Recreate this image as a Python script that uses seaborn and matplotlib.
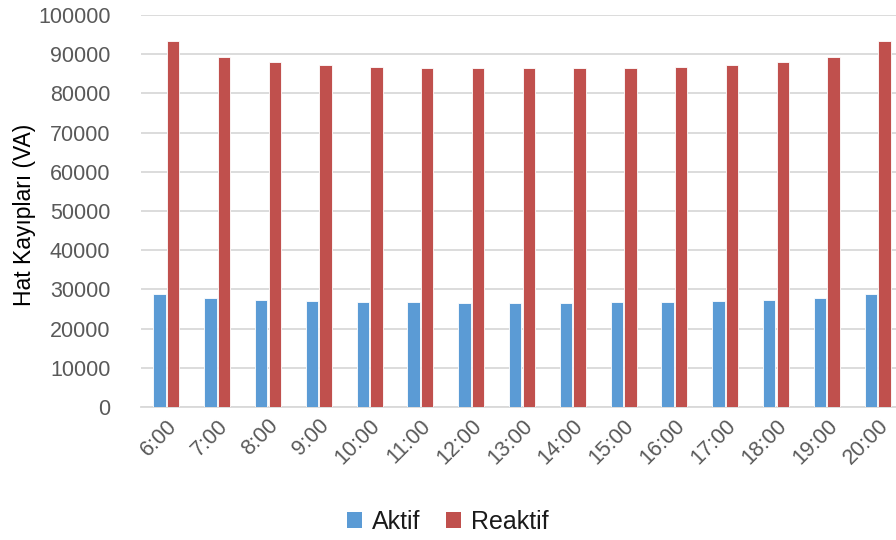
import matplotlib
matplotlib.use("Agg")
import matplotlib.pyplot as plt
import seaborn as sns
import pandas as pd
from matplotlib.patches import Patch

hours = ["6:00", "7:00", "8:00", "9:00", "10:00", "11:00", "12:00", "13:00",
         "14:00", "15:00", "16:00", "17:00", "18:00", "19:00", "20:00"]
aktif = [28900, 27700, 27200, 27000, 26900, 26800, 26650, 26600,
         26650, 26800, 26900, 27000, 27200, 27700, 28900]
reaktif = [93400, 89400, 88000, 87200, 86800, 86600, 86400, 86400,
           86400, 86600, 86800, 87200, 88000, 89300, 93300]
series = ["Aktif", "Reaktif"]
colors = ["#5B9BD5", "#C0504D"]

df = pd.DataFrame({
    "hour": hours * 2,
    "value": aktif + reaktif,
    "series": [series[0]] * len(hours) + [series[1]] * len(hours),
})

sns.set_theme(style="white")
plt.rcParams["font.family"] = ["Liberation Sans", "DejaVu Sans"]

fig = plt.figure(figsize=(8.96, 5.4), dpi=100)
ax = fig.add_axes([141 / 896, (540 - 407) / 540, (903 - 141) / 896, (407 - 15) / 540])

sns.barplot(data=df, x="hour", y="value", hue="series", order=hours,
            hue_order=series, palette=colors, saturation=1, width=0.54, gap=0.1,
            edgecolor="white", linewidth=0.6, legend=False, ax=ax, zorder=3)

ax.set_ylim(0, 100000)
ax.set_yticks(range(0, 100001, 10000))
ax.set_xlim(-0.5, len(hours) - 0.5)
ax.grid(axis="y", color="#D9D9D9", linewidth=1.3, zorder=0)
ax.set_axisbelow(True)
for s in ["left", "right", "top"]:
    ax.spines[s].set_visible(False)
ax.spines["bottom"].set_color("#D9D9D9")
ax.spines["bottom"].set_linewidth(1.3)
ax.tick_params(axis="both", length=0, labelsize=15.5, colors="#595959")
ax.tick_params(axis="y", pad=22)
ax.tick_params(axis="x", pad=6)
for lbl in ax.get_xticklabels():
    lbl.set_rotation(45)
    lbl.set_ha("right")
    lbl.set_rotation_mode("anchor")

ax.set_xlabel("")
ax.set_ylabel("Hat Kayıpları (VA)", fontsize=16.5, color="#000000")
ax.yaxis.set_label_coords(-0.138, 0.49)

handles = [Patch(facecolor=c, edgecolor="none") for c in colors]
fig.legend(handles, series, loc="center", bbox_to_anchor=(0.5, (540 - 522) / 540),
           ncol=2, frameon=False, fontsize=18, handlelength=0.6, handleheight=0.6,
           handletextpad=0.4, columnspacing=1.0, labelcolor="#1a1a1a")

fig.savefig("out.png", dpi=100)
